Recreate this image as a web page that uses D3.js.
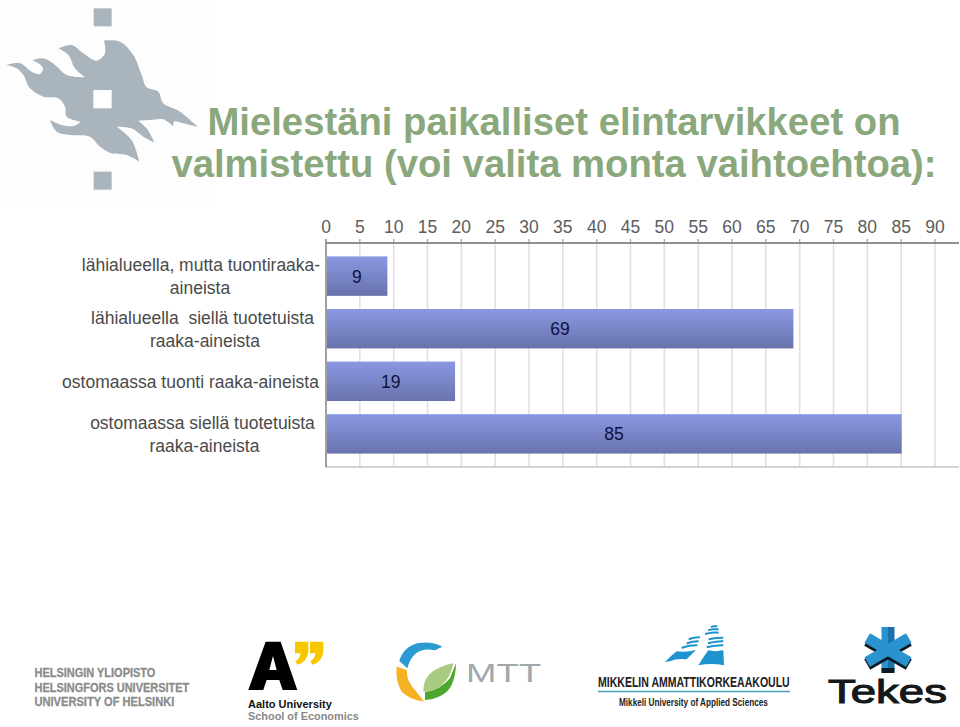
<!DOCTYPE html>
<html><head><meta charset="utf-8">
<script src="https://d3js.org/d3.v7.min.js"></script>
<style>html,body{margin:0;padding:0;background:#fff}svg{display:block}text{font-family:"Liberation Sans",Arial,sans-serif}</style>
</head><body><svg id="c" width="960" height="727"></svg>
<script>
const categories=[["lähialueella, mutta tuontiraaka-","aineista"],["lähialueella  siellä tuotetuista","raaka-aineista"],["ostomaassa tuonti raaka-aineista"],["ostomaassa siellä tuotetuista","raaka-aineista"]];
const values=[9,69,19,85];
const tickValues=[0,5,10,15,20,25,30,35,40,45,50,55,60,65,70,75,80,85,90];
const titleLines=["Mielestäni paikalliset elintarvikkeet on","valmistettu (voi valita monta vaihtoehtoa):"];

const svg=d3.select("#c");
const defs=svg.append("defs");
const g=defs.append("linearGradient").attr("id","bar").attr("x1",0).attr("y1",0).attr("x2",0).attr("y2",1);
g.append("stop").attr("offset",0).attr("stop-color","#8a98e2");
g.append("stop").attr("offset",1).attr("stop-color","#6873ac");

// ---------- flame logo (zoomed coords /3)
const L=svg.append("g");
L.append("rect").attr("width",214).attr("height",208).attr("fill","#fdfdfd");
const fl=L.append("g").attr("transform","scale(0.3333)").attr("fill","#aab4bc");
const flameSegs=[
[[20,195],[60,190],[95,215],[120,222],[129,205],[115,190],[97,180]],
[[97,180],[130,175],[165,195],[200,225],[255,232]],
[[255,232],[225,205],[205,165],[175,145]],
[[175,145],[215,135],[250,160],[290,182],[315,160],[312,122]],
[[312,122],[360,125],[400,165],[425,225],[440,262],[475,275],[490,310],[540,335],[595,382]],
[[595,382],[550,370],[522,365],[520,380]],
[[520,380],[490,358],[450,360],[415,362]],
[[415,362],[440,385],[463,427]],
[[463,427],[430,410],[395,385],[350,380]],
[[350,380],[395,420],[418,485]],
[[418,485],[380,465],[335,460],[300,440],[270,410],[210,405],[170,395],[150,360]],
[[150,360],[185,375],[220,378],[243,365]],
[[243,365],[200,350],[195,320],[175,295],[130,290],[90,265],[70,225],[50,205],[20,195]]];
const seg=d3.line().curve(d3.curveCatmullRom);
let flamePath="";flameSegs.forEach((s,i)=>{const p=seg(s);flamePath+=i?("L"+p.slice(1)):p;});
fl.append("path").attr("d",flamePath+"Z");
fl.append("rect").attr("x",280).attr("y",270).attr("width",55).attr("height",55).attr("fill","#fff");
fl.append("rect").attr("x",281).attr("y",25).attr("width",54).attr("height",54);
fl.append("rect").attr("x",281).attr("y",515).attr("width",54).attr("height",54);

// ---------- title
svg.selectAll("text.t").data(titleLines).join("text").attr("class","t")
 .attr("x",554).attr("y",(d,i)=>135+i*42).attr("text-anchor","middle")
 .attr("font-size",38.25).attr("font-weight",700).attr("fill","#8aa87b").text(d=>d);

// ---------- chart
const x=d3.scaleLinear().domain([0,90]).range([326,935]);
const yTop=243,yBottom=467,xRight=959;
const y=d3.scaleBand().domain(d3.range(values.length)).range([yTop,yBottom]).paddingInner(.25).paddingOuter(.255);
const ch=svg.append("g");
ch.selectAll("line.g").data(tickValues.slice(1)).join("line").attr("class","g")
 .attr("x1",d=>x(d)).attr("x2",d=>x(d)).attr("y1",yTop).attr("y2",yBottom).attr("stroke","#e0e0e0").attr("stroke-width",1.6);
ch.selectAll("line.tk").data(tickValues).join("line").attr("class","tk")
 .attr("x1",d=>x(d)).attr("x2",d=>x(d)).attr("y1",yTop-4).attr("y2",yTop).attr("stroke","#a5a5a5").attr("stroke-width",1.3);
ch.append("line").attr("x1",325).attr("x2",xRight).attr("y1",yBottom).attr("y2",yBottom).attr("stroke","#c4c4c4").attr("stroke-width",1.6);
ch.selectAll("rect.b").data(values).join("rect").attr("class","b")
 .attr("x",x(0)).attr("y",(d,i)=>y(i)).attr("width",d=>x(d)-x(0)+.5).attr("height",y.bandwidth()).attr("fill","url(#bar)");
ch.append("line").attr("x1",326).attr("x2",326).attr("y1",yTop-4).attr("y2",yBottom).attr("stroke","#a0a0a0").attr("stroke-width",2);
ch.append("line").attr("x1",325).attr("x2",xRight).attr("y1",yTop).attr("y2",yTop).attr("stroke","#8f8f8f").attr("stroke-width",2);
ch.selectAll("text.tl").data(tickValues).join("text").attr("class","tl")
 .attr("x",d=>x(d)).attr("y",232.5).attr("text-anchor","middle").attr("font-size",17.5).attr("fill","#5c5c5c").text(d=>d);
ch.selectAll("text.v").data(values).join("text").attr("class","v")
 .attr("x",d=>x(d/2)+.5).attr("y",(d,i)=>y(i)+y.bandwidth()/2+6.5).attr("text-anchor","middle")
 .attr("font-size",17.5).attr("fill","#10123c").text(d=>d);
const labelCx=[[201,200],[202.5,205],[190.5],[202.5,204.5]];
const lab=ch.selectAll("text.c").data(categories).join("text").attr("class","c")
 .attr("font-size",17.5).attr("fill","#4a4a4a").attr("text-anchor","middle").style("white-space","pre");
lab.each(function(ls,i){
  const cy=y(i)+y.bandwidth()/2;
  d3.select(this).selectAll("tspan").data(ls).join("tspan").attr("x",(l,j)=>labelCx[i][j])
   .attr("y",(l,j)=>cy+6.5+(j-(ls.length-1)/2)*23).text(l=>l);
});

// ---------- bottom logos
const lg=svg.append("g");
function tx(s,x0,yb,w,size,fill,weight){
 const t=lg.append("text").attr("font-size",size).attr("fill",fill).attr("font-weight",weight||700).text(s);
 const n=t.node().getComputedTextLength();
 t.attr("transform",`translate(${x0},${yb}) scale(${w/n},1)`);
 return t;}
["HELSINGIN YLIOPISTO","HELSINGFORS UNIVERSITET","UNIVERSITY OF HELSINKI"].forEach((s,i)=>
 tx(s,34.5,[677,691.5,706][i],[121,155,140][i],12.5,"#8b8b8b",700).attr("stroke","#8b8b8b").attr("stroke-width",.3));

// Aalto (zoomed coords /3, offset y 620)
const a=lg.append("g").attr("transform","translate(0,620) scale(0.3333)");
a.append("path").attr("fill-rule","evenodd").attr("fill","#000")
 .attr("d","M745 210L797 65H842L892 210H848L838 180H800L790 210ZM808 150H830L819 108Z");
a.append("path").attr("fill","#f5c800").attr("d","M885 65H925V95Q922 125 893 134L886 124Q900 115 902 100H885Z");
a.append("path").attr("fill","#f5c800").attr("d","M930 65H970V95Q967 125 938 134L931 124Q945 115 947 100H930Z");
tx("Aalto University",248,708,84,10,"#111",700);
tx("School of Economics",248,719.5,111,10,"#888",700);

// MTT (crop coords /3, offset 390,635)
const m=lg.append("g").attr("transform","translate(390,635) scale(0.3333)");
m.append("path").attr("fill","#2a9ad0").attr("d","M28 78Q40 35 85 24Q125 18 157 35L135 46Q100 38 78 55Q60 70 52 100Z");
m.append("path").attr("fill","#f5b324").attr("d","M20 95L50 105Q50 140 75 165L103 200Q60 195 35 170Q15 135 20 95Z");
m.append("path").attr("fill","#4ea62f").attr("d","M105 195Q165 190 185 150Q198 120 198 85L180 130Q150 165 105 172Z");
m.append("path").attr("fill","#a9cb82").attr("d","M100 170Q100 125 135 105Q160 90 190 85Q182 130 150 155Q125 170 100 170Z");
tx("MTT",466,682,75,25,"#a0a8ab",400);

// Mikkeli (crop coords /3, offset 640,622)
const k=lg.append("g").attr("transform","translate(640,622) scale(0.3333)");
k.append("path").attr("fill","#1f93cf").attr("d","M75 120Q92 102 110 88Q140 92 168 84L140 112Q110 108 90 118Z");
k.append("path").attr("fill","#1f93cf").attr("d","M175 130Q190 105 205 85Q225 90 250 85L252 130Q215 122 175 130Z");
const stripes=[[[125,78],[148,70],[172,70]],[[140,65],[158,58],[176,58]],[[146,52],[162,46],[180,46]],
 [[200,76],[225,70],[250,70]],[[204,64],[228,58],[250,58]],[[206,52],[228,47],[250,47]],
 [[195,36],[215,31],[236,32]],[[204,25],[220,21],[236,22]],[[213,15],[222,12],[232,13]]];
k.selectAll("path.s").data(stripes).join("path").attr("class","s").attr("fill","none").attr("stroke","#1f93cf").attr("stroke-width",6)
 .attr("d",d3.line().curve(d3.curveBasis));
tx("MIKKELIN AMMATTIKORKEAAKOULU",598,687,192,14.5,"#222",700);
lg.append("line").attr("x1",598).attr("x2",790).attr("y1",691.5).attr("y2",691.5).attr("stroke","#4aa4b4").attr("stroke-width",1.6);
tx("Mikkeli University of Applied Sciences",619,705.5,149,11,"#222",700);

// Tekes
const st=lg.append("g").attr("transform","translate(888,650)");
st.append("rect").attr("x",-6.5).attr("y",-23).attr("width",6.5).attr("height",44).attr("fill","#2a93cf");
st.append("rect").attr("x",0).attr("y",-23).attr("width",6.5).attr("height",44).attr("fill","#1a72a8");
st.append("rect").attr("x",-6.5).attr("y",18).attr("width",13).attr("height",5).attr("fill","#0b1a24");
[60,120].forEach(r=>st.append("rect").attr("x",-6).attr("y",-24).attr("width",12).attr("height",48)
  .attr("transform",`translate(0,2.5) rotate(${r})`).attr("fill","#0b1a24"));
[60,120].forEach(r=>st.append("rect").attr("x",-5.5).attr("y",-24).attr("width",11).attr("height",48)
  .attr("transform",`rotate(${r})`).attr("fill","#2a93cf"));
tx("Tekes",828,703,119,34,"#15181a",400).attr("stroke","#15181a").attr("stroke-width",1.1);
</script></body></html>
